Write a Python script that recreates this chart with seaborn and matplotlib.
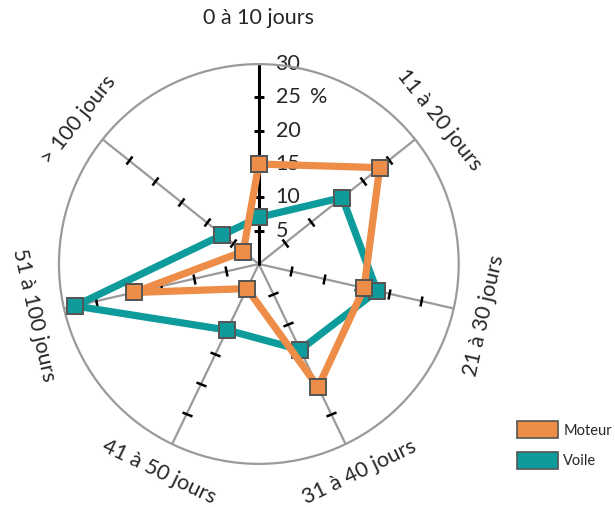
import numpy as np
import matplotlib
matplotlib.use("Agg")
import matplotlib.pyplot as plt
import seaborn as sns
import pandas as pd
from matplotlib.markers import MarkerStyle
from matplotlib.transforms import Affine2D
from matplotlib.patches import Patch

# data
categories = ['0 à 10 jours', '11 à 20 jours', '21 à 30 jours', '31 à 40 jours',
              '41 à 50 jours', '51 à 100 jours', '> 100 jours']
moteur = [15, 23.2, 16.2, 20.5, 4.1, 19.2, 3]
voile = [7, 16, 18.2, 14.3, 11, 28.3, 7]
radial_ticks = [5, 10, 15, 20, 25, 30]
series_names = ['Moteur', 'Voile']

c_moteur = '#EE8D47'
c_voile = '#0E9B9B'
grey = '#9a9a9a'

sns.set_style("white")
plt.rcParams['font.family'] = ['Lato', 'DejaVu Sans']

n = len(categories)
theta = np.arange(n) * 2 * np.pi / n
theta_closed = np.append(theta, 2 * np.pi)

df = pd.DataFrame({
    'theta': np.concatenate([theta_closed, theta_closed]),
    'value': moteur + [moteur[0]] + voile + [voile[0]],
    'serie': ['Moteur'] * (n + 1) + ['Voile'] * (n + 1),
})

fig = plt.figure(figsize=(6.15, 5.07), dpi=100)
ax = fig.add_axes([0.0959, 0.0848, 0.650, 0.789], projection='polar')
ax.set_theta_offset(np.pi / 2)
ax.set_theta_direction(-1)
ax.set_ylim(0, 30)
ax.grid(False)
ax.set_xticks([])
ax.set_yticks([])
ax.spines['polar'].set_color(grey)
ax.spines['polar'].set_linewidth(1.6)

# spokes and ticks
for i, a in enumerate(theta):
    if i == 0:
        continue
    ax.plot([a, a], [0, 30], color=grey, lw=1.6, zorder=1)
    deg = np.degrees(a)
    m = MarkerStyle('_', transform=Affine2D().rotate_deg(-deg))
    ax.plot([a] * 5, radial_ticks[:5], ls='none', marker=m, markersize=8,
            markeredgewidth=1.8, color='black', zorder=1.5)
ax.plot([0, 0], [0, 30], color='black', lw=2.2, zorder=1.6)
ax.plot([0] * 5, radial_ticks[:5], ls='none', marker='_', markersize=7,
        markeredgewidth=1.8, color='black', zorder=1.6)

for v in radial_ticks:
    ax.annotate(str(v), xy=(0, v), xytext=(12, 0), textcoords='offset points',
                va='center', ha='left', fontsize=15.5, zorder=1.2)
ax.annotate('%', xy=(0, 25), xytext=(37, 0), textcoords='offset points',
            va='center', ha='left', fontsize=15.5)

# category labels
for i, (a, lab) in enumerate(zip(theta, categories)):
    deg = np.degrees(a)
    rot = -deg
    if 90 < deg < 270:
        rot = 180 - deg
    if rot < -180:
        rot += 360
    r = 36.9 if i == 0 else 34.6
    ax.text(a, r, lab, rotation=rot, rotation_mode='anchor', ha='center',
            va='center', fontsize=15.5)

sns.lineplot(data=df, x='theta', y='value', hue='serie', hue_order=['Voile', 'Moteur'],
             palette={'Moteur': c_moteur, 'Voile': c_voile}, sort=False, estimator=None,
             marker='s', markersize=12, markeredgecolor='#555555', markeredgewidth=1.4,
             lw=5.2, ax=ax, legend=False, zorder=3)
ax.set_xlabel('')
ax.set_ylabel('')

handles = [Patch(facecolor=c_moteur, edgecolor='#555555', lw=1.2),
           Patch(facecolor=c_voile, edgecolor='#555555', lw=1.2)]
fig.legend(handles, series_names, loc='center left', bbox_to_anchor=(0.82, 0.122),
           frameon=False, fontsize=10.5, handlelength=2.8, handleheight=1.35,
           labelspacing=1.0, handletextpad=0.35)

fig.savefig('out.png', dpi=100)
